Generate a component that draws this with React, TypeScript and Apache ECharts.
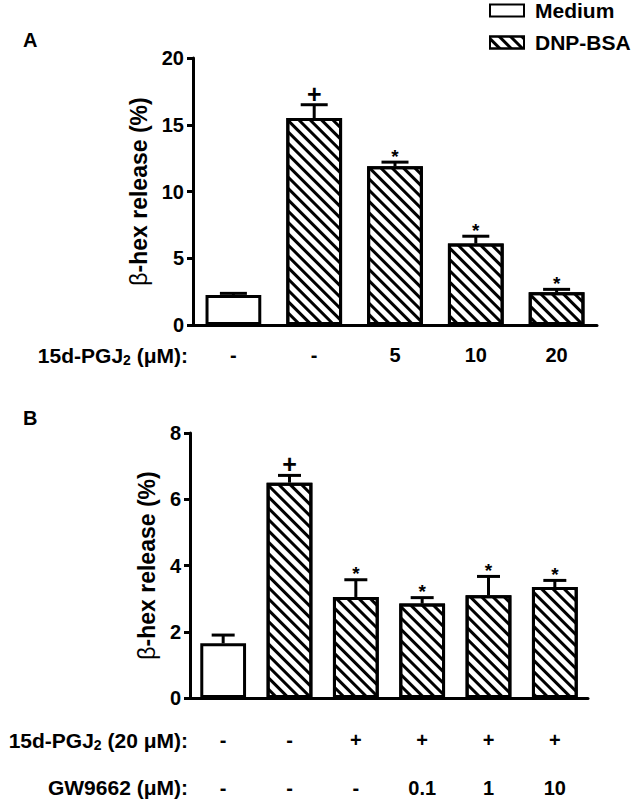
import React, { useEffect, useRef } from "react";
import * as echarts from "echarts";

// Panel A data
const catA = ["-", "-", "5", "10", "20"];
const mediumA: (number | string)[] = [2.25, "-", "-", "-", "-"];
const dnpA: (number | string)[] = ["-", 15.5, 11.9, 6.1, 2.45];
const errA = [0.12, 1.0, 0.3, 0.55, 0.22];
const markA = ["", "+", "*", "*", "*"];
const yTicksA = { min: 0, max: 20, interval: 5 };

// Panel B data
const pgjB = ["-", "-", "+", "+", "+", "+"];
const gwB = ["-", "-", "-", "0.1", "1", "10"];
const mediumB: (number | string)[] = [1.65, "-", "-", "-", "-", "-"];
const dnpB: (number | string)[] = ["-", 6.5, 3.05, 2.85, 3.1, 3.35];
const errB = [0.25, 0.22, 0.52, 0.18, 0.57, 0.2];
const markB = ["", "+", "*", "*", "*", "*"];
const yTicksB = { min: 0, max: 8, interval: 2 };

const FONT = "'Liberation Sans', Arial, Helvetica, sans-serif";

const hatch = {
  symbol: "rect",
  symbolSize: 1,
  dashArrayX: [1, 0],
  dashArrayY: [2.5, 5],
  rotation: Math.PI / 4,
  color: "#000",
  backgroundColor: "#fff",
};

function errData(medium: (number | string)[], dnp: (number | string)[], err: number[]) {
  return err.map((e, i) => {
    const v = typeof medium[i] === "number" ? (medium[i] as number) : (dnp[i] as number);
    return [i, v, e];
  });
}

function errRender(marks: string[], capW: number) {
  return (params: any, api: any) => {
    const x = api.value(0);
    const v = api.value(1);
    const e = api.value(2);
    const base = api.coord([x, v]);
    const top = api.coord([x, v + e]);
    const children: any[] = [
      {
        type: "line",
        shape: { x1: base[0], y1: base[1], x2: base[0], y2: top[1] },
        style: { stroke: "#000", lineWidth: 3 },
      },
      {
        type: "line",
        shape: { x1: base[0] - capW / 2, y1: top[1], x2: base[0] + capW / 2, y2: top[1] },
        style: { stroke: "#000", lineWidth: 3 },
      },
    ];
    const m = marks[params.dataIndex];
    if (m) {
      children.push({
        type: "text",
        style: {
          text: m,
          x: base[0],
          y: top[1] - (m === "+" ? 11 : 6),
          align: "center",
          verticalAlign: "middle",
          fill: "#000",
          fontFamily: FONT,
          fontWeight: "bold",
          fontSize: m === "+" ? 25 : 19,
        },
      });
    }
    return { type: "group", children };
  };
}

const axisLineStyle = { lineStyle: { color: "#000", width: 3 } };

function yAxis(gridIndex: number, ticks: any, nameGap: number) {
  return {
    type: "value",
    gridIndex,
    ...ticks,
    name: "{b|β}-hex release (%)",
    nameLocation: "middle",
    nameGap,
    nameRotate: 90,
    nameTextStyle: {
      fontFamily: FONT,
      fontWeight: "bold",
      fontSize: 23,
      color: "#000",
      rich: { b: { fontWeight: "normal", fontSize: 23, fontFamily: FONT, color: "#000" } },
    },
    axisLine: { show: true, ...axisLineStyle },
    axisTick: { show: true, length: 6, lineStyle: { color: "#000", width: 3 } },
    axisLabel: { color: "#000", fontFamily: FONT, fontWeight: "bold", fontSize: 20, margin: 9 },
    splitLine: { show: false },
  };
}

function xAxis(gridIndex: number, data: string[], margin: number, offset = 0, showLine = true) {
  return {
    type: "category",
    gridIndex,
    data,
    position: "bottom",
    offset,
    axisLine: { show: showLine, ...axisLineStyle },
    axisTick: { show: false },
    axisLabel: { interval: 0, color: "#000", fontFamily: FONT, fontWeight: "bold", fontSize: 20, margin },
    splitLine: { show: false },
  };
}

const barBase = {
  type: "bar",
  barWidth: "69%",
  barGap: "-100%",
  itemStyle: { borderColor: "#000", borderWidth: 3 },
};

const titleStyle = {
  fontFamily: FONT,
  fontWeight: "bold",
  fontSize: 21,
  fill: "#000",
  align: "right",
  verticalAlign: "middle",
  lineHeight: 24,
  rich: { s: { fontSize: 14, lineHeight: 10, verticalAlign: "bottom", fontWeight: "bold", fontFamily: FONT } },
};

export default function App() {
  const ref = useRef<HTMLDivElement>(null);
  useEffect(() => {
    if (!ref.current) return;
    const chart = echarts.init(ref.current, null, { renderer: "svg" });
    chart.setOption({
      animation: false,
      backgroundColor: "#fff",
      legend: {
        data: ["Medium", "DNP-BSA"],
        orient: "vertical",
        left: 489,
        top: 0,
        padding: 0,
        icon: "rect",
        itemWidth: 34,
        itemHeight: 12,
        itemGap: 11,
        textStyle: { fontFamily: FONT, fontWeight: "bold", fontSize: 21, color: "#000", padding: [0, 0, 0, 6] },
      },
      grid: [
        { left: 193, width: 404, top: 58, height: 267 },
        { left: 190, width: 398, top: 433, height: 265 },
      ],
      xAxis: [xAxis(0, catA, 20), xAxis(1, pgjB, 32), xAxis(1, gwB, 32, 48, false)],
      yAxis: [yAxis(0, yTicksA, 40), yAxis(1, yTicksB, 29)],
      graphic: [
        { type: "text", left: 23, top: 30, style: { text: "A", fontFamily: FONT, fontWeight: "bold", fontSize: 20, fill: "#000" } },
        { type: "text", left: 23, top: 408, style: { text: "B", fontFamily: FONT, fontWeight: "bold", fontSize: 20, fill: "#000" } },
        { type: "text", x: 188, y: 355, style: { ...titleStyle, text: "15d-PGJ{s|2} (μM):" } },
        { type: "text", x: 188, y: 740, style: { ...titleStyle, text: "15d-PGJ{s|2} (20 μM):" } },
        { type: "text", x: 188, y: 787, style: { ...titleStyle, text: "GW9662 (μM):" } },
      ],
      series: [
        { ...barBase, name: "Medium", xAxisIndex: 0, yAxisIndex: 0, data: mediumA, itemStyle: { ...barBase.itemStyle, color: "#fff" } },
        { ...barBase, name: "DNP-BSA", xAxisIndex: 0, yAxisIndex: 0, data: dnpA, itemStyle: { ...barBase.itemStyle, color: "#fff", decal: hatch } },
        { ...barBase, name: "Medium", xAxisIndex: 1, yAxisIndex: 1, data: mediumB, itemStyle: { ...barBase.itemStyle, color: "#fff" } },
        { ...barBase, name: "DNP-BSA", xAxisIndex: 1, yAxisIndex: 1, data: dnpB, itemStyle: { ...barBase.itemStyle, color: "#fff", decal: hatch } },
        {
          type: "custom",
          xAxisIndex: 0,
          yAxisIndex: 0,
          data: errData(mediumA, dnpA, errA),
          encode: { x: 0, y: 1 },
          renderItem: errRender(markA, 27),
          z: 5,
        },
        {
          type: "custom",
          xAxisIndex: 1,
          yAxisIndex: 1,
          data: errData(mediumB, dnpB, errB),
          encode: { x: 0, y: 1 },
          renderItem: errRender(markB, 23),
          z: 5,
        },
      ],
    });
    return () => chart.dispose();
  }, []);
  return <div ref={ref} style={{ position: "fixed", left: 0, top: 0, width: 641, height: 800 }} />;
}
